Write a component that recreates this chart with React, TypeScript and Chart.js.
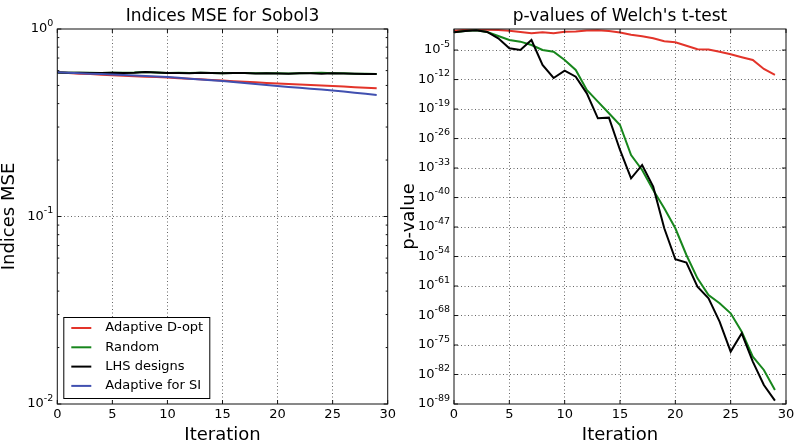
import React, { useEffect, useRef } from 'react';
import { Chart, registerables } from 'chart.js';

Chart.register(...registerables);

const FONT = "'DejaVu Sans', sans-serif";

// ---------- data ----------
const iterations = [0, 1, 2, 3, 4, 5, 6, 7, 8, 9, 10, 11, 12, 13, 14, 15, 16, 17, 18, 19, 20, 21, 22, 23, 24, 25, 26, 27, 28, 29];

const seriesNames = ['Adaptive D-opt', 'Random', 'LHS designs', 'Adaptive for SI'];
const seriesColors = ['#e3342a', '#17861c', '#000000', '#4150b0'];

// Left: Indices MSE
const mseAdaptiveDopt = [0.5875, 0.5825, 0.578, 0.5746, 0.571, 0.5675, 0.564, 0.5606, 0.557, 0.5546, 0.551, 0.547, 0.543, 0.539, 0.535, 0.531, 0.527, 0.5235, 0.5196, 0.5158, 0.512, 0.509, 0.506, 0.5027, 0.4996, 0.4966, 0.493, 0.4894, 0.4858, 0.4829];
const mseRandom = [0.587, 0.585, 0.584, 0.584, 0.583, 0.585, 0.584, 0.586, 0.59, 0.587, 0.583, 0.584, 0.582, 0.585, 0.583, 0.581, 0.582, 0.583, 0.58, 0.581, 0.58, 0.579, 0.581, 0.582, 0.585, 0.581, 0.58, 0.578, 0.577, 0.576];
const mseLHS = [0.587, 0.585, 0.584, 0.583, 0.582, 0.584, 0.583, 0.585, 0.589, 0.586, 0.582, 0.583, 0.581, 0.584, 0.582, 0.58, 0.583, 0.582, 0.579, 0.58, 0.579, 0.578, 0.58, 0.581, 0.578, 0.58, 0.579, 0.577, 0.576, 0.575];
const mseAdaptiveSI = [0.5875, 0.5846, 0.581, 0.578, 0.5754, 0.572, 0.5682, 0.5649, 0.5614, 0.558, 0.5546, 0.549, 0.5436, 0.5383, 0.533, 0.528, 0.5216, 0.515, 0.509, 0.5027, 0.4966, 0.491, 0.4858, 0.4803, 0.475, 0.4698, 0.4635, 0.4574, 0.4512, 0.4446];

// Right: p-values of Welch's t-test
const pAdaptiveDopt = [4.0e-1, 6.3e-1, 7.1e-1, 6.3e-1, 5.6e-1, 4.0e-1, 2.0e-1, 1.0e-1, 1.6e-1, 1.0e-1, 2.2e-1, 2.5e-1, 4.5e-1, 5.0e-1, 3.5e-1, 1.4e-1, 4.5e-2, 1.8e-2, 6.3e-3, 1.3e-3, 7.1e-4, 1.1e-4, 1.6e-5, 1.4e-5, 4.0e-6, 1.0e-6, 2.0e-7, 4.5e-8, 3.2e-10, 1.3e-11];
const pRandom = [1.62e-1, 3.39e-1, 4.79e-1, 1.95e-1, 2.19e-2, 2.45e-3, 1.0e-3, 1.58e-4, 1.05e-5, 4.17e-6, 4.37e-8, 1.86e-10, 3.31e-15, 5.75e-18, 9.77e-21, 1.66e-23, 1.26e-30, 3.47e-34, 6.31e-39, 2.75e-43, 5.01e-48, 2.34e-54, 6.76e-60, 7.59e-64, 7.94e-66, 3.39e-68, 1.51e-72, 1.74e-78, 1.2e-81, 2.14e-86];
const pLHS = [1.62e-1, 3.39e-1, 4.79e-1, 1.95e-1, 6.17e-3, 2.63e-5, 1.05e-5, 2.45e-3, 2.88e-9, 2.34e-12, 1.29e-10, 4.9e-12, 5.37e-16, 6.31e-22, 9.12e-22, 1.95e-29, 3.63e-36, 5.37e-33, 3.89e-38, 5.01e-48, 2.19e-55, 3.55e-56, 7.24e-62, 1.23e-64, 3.55e-70, 2.75e-77, 6.03e-73, 1.15e-79, 3.31e-85, 6.31e-89];

// ticks
const xTicks = [0, 5, 10, 15, 20, 25, 30];
const leftYTickExponents = [-2, -1, 0];
const rightYTickExponents = [-89, -82, -75, -68, -61, -54, -47, -40, -33, -26, -19, -12, -5];

const GRID = 'rgba(0,0,0,0.6)';

const toPoints = (ys: number[]) => iterations.map((x, i) => ({ x, y: ys[i] }));

function decorPlugin(title: string, minorLog: boolean, legend: boolean) {
  return {
    id: 'decor',
    afterDatasetsDraw(chart: any) {
      const { ctx, chartArea: a, scales } = chart;
      const xs = scales.x;
      const ys = scales.y;
      ctx.save();
      // frame
      ctx.strokeStyle = '#111';
      ctx.lineWidth = 1;
      ctx.strokeRect(a.left, a.top, a.right - a.left, a.bottom - a.top);
      // major ticks inside
      ctx.beginPath();
      xTicks.forEach((v) => {
        const px = xs.getPixelForValue(v);
        ctx.moveTo(px, a.bottom);
        ctx.lineTo(px, a.bottom - 4);
        ctx.moveTo(px, a.top);
        ctx.lineTo(px, a.top + 4);
      });
      ys.ticks.forEach((t: any) => {
        const py = ys.getPixelForValue(t.value);
        ctx.moveTo(a.left, py);
        ctx.lineTo(a.left + 4, py);
        ctx.moveTo(a.right, py);
        ctx.lineTo(a.right - 4, py);
      });
      if (minorLog) {
        [0.01, 0.1].forEach((base) => {
          for (let m = 2; m <= 9; m++) {
            const py = ys.getPixelForValue(base * m);
            ctx.moveTo(a.left, py);
            ctx.lineTo(a.left + 2, py);
            ctx.moveTo(a.right, py);
            ctx.lineTo(a.right - 2, py);
          }
        });
      }
      ctx.stroke();

      // y tick labels: 10 with raised exponent
      ctx.fillStyle = '#000';
      ys.ticks.forEach((t: any) => {
        const py = ys.getPixelForValue(t.value);
        const e = String(Math.round(Math.log10(t.value)));
        const xr = a.left - 4;
        ctx.font = `9.5px ${FONT}`;
        ctx.textAlign = 'right';
        ctx.textBaseline = 'alphabetic';
        const ew = ctx.measureText(e).width;
        ctx.fillText(e, xr, py - 3.5);
        ctx.font = `13px ${FONT}`;
        ctx.textBaseline = 'middle';
        ctx.fillText('10', xr - ew, py);
      });

      // title
      ctx.fillStyle = '#000';
      ctx.font = `17px ${FONT}`;
      ctx.textAlign = 'center';
      ctx.textBaseline = 'middle';
      ctx.fillText(title, (a.left + a.right) / 2, 17);

      // legend
      if (legend) {
        const bx = a.left + 6;
        const bw = 146;
        const bh = 81;
        const by = a.bottom - 6 - bh;
        ctx.fillStyle = '#fff';
        ctx.fillRect(bx, by, bw, bh);
        ctx.strokeStyle = '#000';
        ctx.lineWidth = 1;
        ctx.strokeRect(bx + 0.5, by + 0.5, bw, bh);
        ctx.font = `13px ${FONT}`;
        ctx.textAlign = 'left';
        ctx.textBaseline = 'middle';
        seriesNames.forEach((name, i) => {
          const cy = by + 11 + i * 19.3;
          ctx.strokeStyle = seriesColors[i];
          ctx.lineWidth = 2;
          ctx.beginPath();
          ctx.moveTo(bx + 8, cy);
          ctx.lineTo(bx + 28, cy);
          ctx.stroke();
          ctx.fillStyle = '#000';
          ctx.fillText(name, bx + 42, cy);
        });
      }
      ctx.restore();
    },
  };
}

function makeOptions(cfg: {
  yMin: number;
  yMax: number;
  yTickExps: number[];
  yWidth: number;
  padRight: number;
  yTitle: string;
}) {
  return {
    responsive: false,
    animation: false as const,
    events: [] as any[],
    layout: { padding: { left: 0, right: cfg.padRight, top: 29, bottom: 0 } },
    plugins: {
      legend: { display: false },
      title: { display: false },
      tooltip: { enabled: false },
    },
    elements: { point: { radius: 0 }, line: { tension: 0, borderWidth: 2 } },
    scales: {
      x: {
        type: 'linear' as const,
        min: 0,
        max: 30,
        afterBuildTicks: (s: any) => {
          s.ticks = xTicks.map((v) => ({ value: v }));
        },
        afterFit: (s: any) => {
          s.height = 42;
        },
        ticks: { padding: 3, color: '#000', font: { size: 13, family: FONT }, maxRotation: 0, autoSkip: false },
        grid: {
          drawTicks: false,
          lineWidth: 1,
          color: (c: any) => (c.tick && (c.tick.value === 0 || c.tick.value === 30) ? 'rgba(0,0,0,0)' : GRID),
        },
        border: { display: false, dash: [1, 2.5] },
        title: {
          display: true,
          text: 'Iteration',
          color: '#000',
          font: { size: 18, family: FONT, lineHeight: 1 },
          padding: { top: 0, bottom: 2 },
        },
      },
      y: {
        type: 'logarithmic' as const,
        min: cfg.yMin,
        max: cfg.yMax,
        afterBuildTicks: (s: any) => {
          s.ticks = cfg.yTickExps.map((e) => ({ value: Math.pow(10, e) }));
        },
        afterFit: (s: any) => {
          s.width = cfg.yWidth;
        },
        ticks: {
          display: false,
          autoSkip: false,
        },
        grid: {
          drawTicks: false,
          lineWidth: 1,
          color: (c: any) => {
            if (!c.tick) return GRID;
            const e = Math.round(Math.log10(c.tick.value));
            const lo = Math.round(Math.log10(cfg.yMin));
            const hi = Math.round(Math.log10(cfg.yMax));
            return e === lo || e === hi ? 'rgba(0,0,0,0)' : GRID;
          },
        },
        border: { display: false, dash: [1, 2.5] },
        title: {
          display: true,
          text: cfg.yTitle,
          color: '#000',
          font: { size: 18, family: FONT, lineHeight: 1 },
          padding: { top: 0, bottom: 0 },
        },
      },
    },
  };
}

function LeftChart() {
  const ref = useRef<HTMLCanvasElement | null>(null);
  useEffect(() => {
    if (!ref.current) return;
    const series = [mseAdaptiveDopt, mseRandom, mseLHS, mseAdaptiveSI];
    const orders = [3, 2, 1, 0];
    const chart = new Chart(ref.current, {
      type: 'line',
      data: {
        datasets: series.map((s, i) => ({
          label: seriesNames[i],
          data: toPoints(s),
          borderColor: seriesColors[i],
          backgroundColor: seriesColors[i],
          borderWidth: 2,
          pointRadius: 0,
          fill: false,
          order: orders[i],
        })),
      },
      options: makeOptions({ yMin: 0.01, yMax: 1, yTickExps: leftYTickExponents, yWidth: 57.3, padRight: 12.3, yTitle: 'Indices MSE' }) as any,
      plugins: [decorPlugin('Indices MSE for Sobol3', true, true)],
    });
    return () => chart.destroy();
  }, []);
  return <canvas ref={ref} width={400} height={446} style={{ position: 'absolute', left: 0, top: 0, width: 400, height: 446 }} />;
}

function RightChart() {
  const ref = useRef<HTMLCanvasElement | null>(null);
  useEffect(() => {
    if (!ref.current) return;
    const series = [pAdaptiveDopt, pRandom, pLHS];
    const orders = [2, 1, 0];
    const chart = new Chart(ref.current, {
      type: 'line',
      data: {
        datasets: series.map((s, i) => ({
          label: seriesNames[i],
          data: toPoints(s),
          borderColor: seriesColors[i],
          backgroundColor: seriesColors[i],
          borderWidth: 2,
          pointRadius: 0,
          fill: false,
          order: orders[i],
        })),
      },
      options: makeOptions({ yMin: 1e-89, yMax: 1, yTickExps: rightYTickExponents, yWidth: 54, padRight: 13, yTitle: 'p-value' }) as any,
      plugins: [decorPlugin("p-values of Welch's t-test", false, false)],
    });
    return () => chart.destroy();
  }, []);
  return <canvas ref={ref} width={399} height={446} style={{ position: 'absolute', left: 400, top: 0, width: 399, height: 446 }} />;
}

export default function App() {
  return (
    <div style={{ position: 'fixed', left: 0, top: 0, width: 799, height: 446, background: '#fff', overflow: 'hidden' }}>
      <LeftChart />
      <RightChart />
    </div>
  );
}
